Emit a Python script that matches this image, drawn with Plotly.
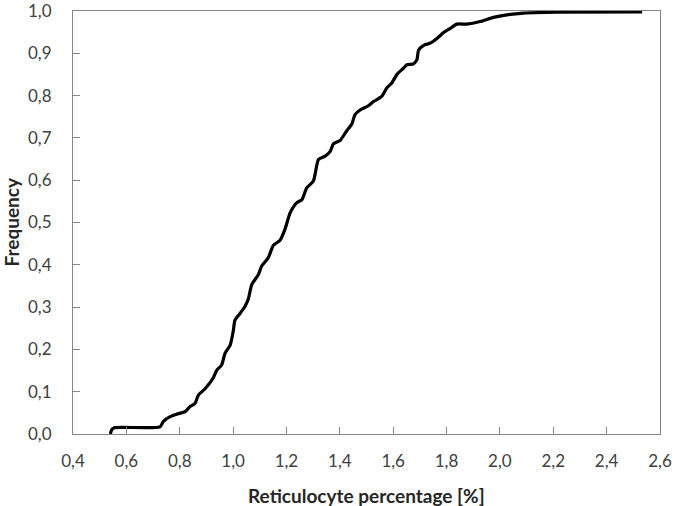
import plotly.graph_objects as go

reticulocyte_pct = [0.540, 0.545, 0.555, 0.726, 0.739, 0.764, 0.789, 0.820, 0.839, 0.857,
                    0.870, 0.895, 0.926, 0.939, 0.957, 0.970, 0.989, 1.001, 1.007, 1.026,
                    1.045, 1.057, 1.070, 1.095, 1.107, 1.132, 1.151, 1.176, 1.195, 1.214,
                    1.239, 1.258, 1.276, 1.301, 1.320, 1.345, 1.364, 1.376, 1.401, 1.426,
                    1.445, 1.457, 1.476, 1.507, 1.526, 1.557, 1.576, 1.595, 1.614, 1.639,
                    1.651, 1.676, 1.689, 1.695, 1.714, 1.739, 1.764, 1.789, 1.814, 1.839,
                    1.876, 1.926, 1.976, 2.026, 2.089, 2.214, 2.533]
frequency = [0.000, 0.010, 0.015, 0.017, 0.030, 0.041, 0.047, 0.053, 0.065, 0.072,
             0.092, 0.107, 0.133, 0.151, 0.163, 0.191, 0.210, 0.245, 0.269, 0.285,
             0.302, 0.319, 0.353, 0.377, 0.397, 0.417, 0.446, 0.458, 0.485, 0.523,
             0.547, 0.554, 0.582, 0.598, 0.649, 0.657, 0.668, 0.686, 0.694, 0.717,
             0.733, 0.755, 0.766, 0.776, 0.786, 0.798, 0.818, 0.830, 0.850, 0.865,
             0.873, 0.875, 0.885, 0.907, 0.919, 0.924, 0.935, 0.949, 0.959, 0.969,
             0.969, 0.975, 0.985, 0.991, 0.995, 0.997, 0.998]

x_ticks = [0.4, 0.6, 0.8, 1.0, 1.2, 1.4, 1.6, 1.8, 2.0, 2.2, 2.4, 2.6]
y_ticks = [0.0, 0.1, 0.2, 0.3, 0.4, 0.5, 0.6, 0.7, 0.8, 0.9, 1.0]
x_title = "Reticulocyte percentage [%]"
y_title = "Frequency"

font_family = "Lato, 'Open Sans', sans-serif"
axis_color = "#868686"
title_color = "#262626"

fig = go.Figure()
fig.add_trace(go.Scatter(
    x=reticulocyte_pct, y=frequency, mode="lines",
    line=dict(color="black", width=3.2, shape="spline", smoothing=0.6),
    showlegend=False, hoverinfo="skip",
))

fig.update_layout(
    width=674, height=506,
    margin=dict(l=73, r=14, t=11, b=72),
    paper_bgcolor="white", plot_bgcolor="white",
    separators=", ",
    font=dict(family=font_family, size=17, color="#404040"),
)
fig.update_xaxes(
    range=[0.4, 2.6], tickvals=x_ticks, tickformat=".1f",
    showgrid=False, zeroline=False, automargin=False,
    showline=True, linecolor=axis_color, linewidth=1, mirror=True,
    ticks="inside", ticklen=7, tickcolor=axis_color,
    ticklabelstandoff=12, ticklabeloverflow="allow",
)
fig.update_yaxes(
    range=[0, 1.0], tickvals=y_ticks, tickformat=".1f",
    showgrid=False, zeroline=False, automargin=False,
    showline=True, linecolor=axis_color, linewidth=1, mirror=True,
    ticks="inside", ticklen=7, tickcolor=axis_color,
    ticklabelstandoff=17, ticklabeloverflow="allow",
)

fig.add_annotation(
    text="<b>" + x_title + "</b>", xref="paper", yref="paper", x=0.5, y=0,
    xanchor="center", yanchor="middle", yshift=-61, showarrow=False,
    font=dict(size=19, color=title_color),
)
fig.add_annotation(
    text="<b>" + y_title + "</b>", xref="paper", yref="paper", x=0, y=0.5,
    xanchor="center", yanchor="middle", xshift=-62, textangle=-90, showarrow=False,
    font=dict(size=19, color=title_color),
)

fig.write_html("out.html", config={"displayModeBar": False},
               post_script="document.body.style.margin='0';")
